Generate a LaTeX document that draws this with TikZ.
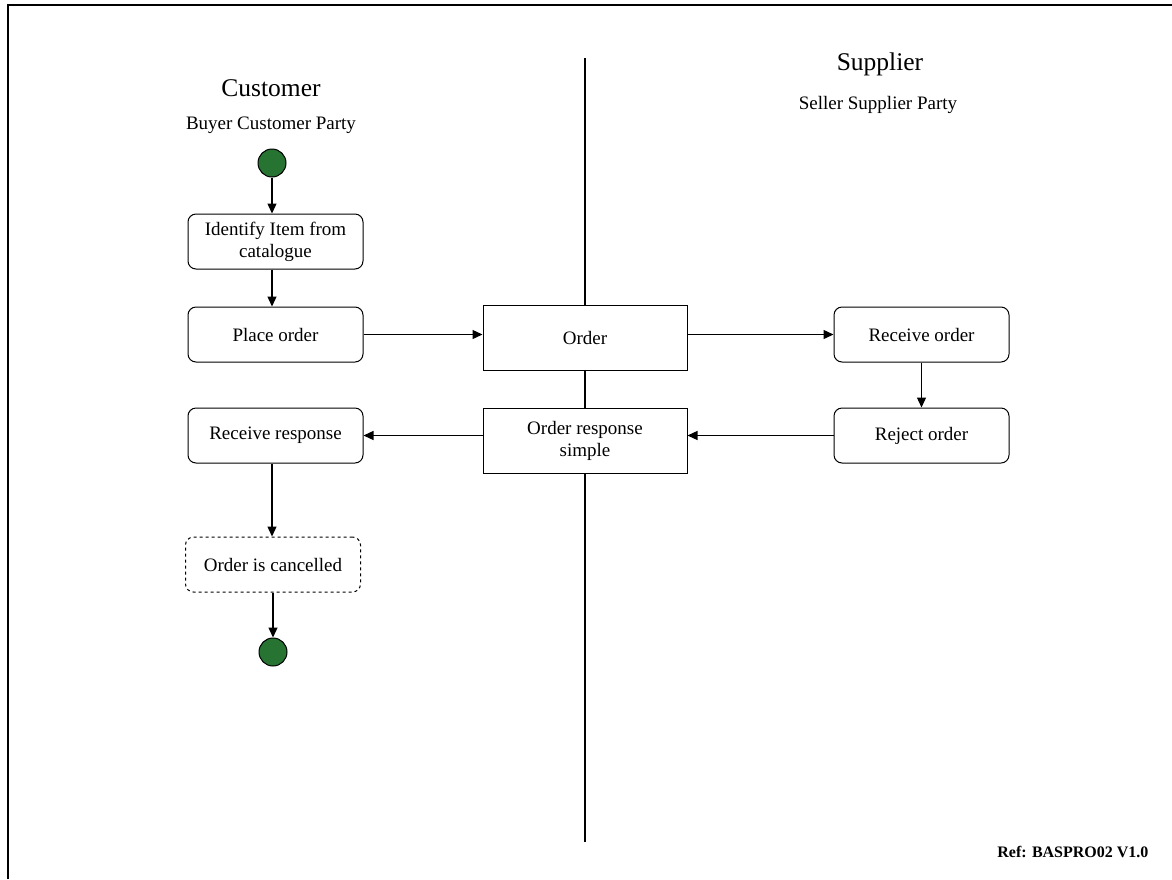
\documentclass[tikz,border=0pt]{standalone}
\usepackage{fontspec}
\setmainfont{Liberation Serif}
\usetikzlibrary{arrows.meta}
\definecolor{startgreen}{RGB}{38,115,50}
\tikzstyle{activity} = [draw,rounded corners=8pt,line width=1pt,minimum width=175pt,minimum height=55pt,align=center,font=\fontsize{19}{22}\selectfont]
\tikzstyle{message} = [draw,fill=white,line width=1pt,minimum width=204pt,minimum height=65pt,align=center,font=\fontsize{19}{22}\selectfont]
\tikzstyle{dot} = [circle,draw,fill=startgreen,minimum size=28pt,inner sep=0pt,line width=1pt]
\tikzstyle{lane} = [font=\fontsize{25.5}{30}\selectfont]
\tikzstyle{party} = [font=\fontsize{19}{22}\selectfont]
\tikzstyle{flow} = [line width=1.3pt,-{Triangle[length=10pt,width=9pt]}]

\begin{document}
\begin{tikzpicture}[x=1pt,y=-1pt]
	\useasboundingbox (0,0) rectangle (1172,879);
	% frame and swimlane divider
	\draw[line width=2.5pt] (8,879) -- (8,5) -- (1172,5);
	\draw[line width=2.5pt] (585,58) -- (585,842);
	\node[lane] (customer) at (271,88) {Customer};
	\node[party] (buyer) at (271,125) {Buyer Customer Party};
	\node[lane] (supplier) at (880,64) {Supplier};
	\node[party] (seller) at (878,105) {Seller Supplier Party};
	\node[dot] (start) at (272,163) {};
	\node[activity] (identify) at (275.5,241.5) {Identify Item from\\catalogue};
	\node[activity] (place) at (275.5,334.5) {Place order};
	\node[message] (order) at (585,337.5) {Order};
	\node[activity] (receive) at (921.5,334.5) {Receive order};
	\node[activity] (reject) at (921.5,435.5) {Reject order};
	\node[message] (response) at (585,440.5) {Order response\\simple};
	\node[activity] (receiveresp) at (275.5,435.5) {Receive response};
	\node[activity,dashed] (cancelled) at (273,564.5) {Order is cancelled};
	\node[dot] (end) at (273,652) {};
	\node[font=\fontsize{16}{19}\selectfont\bfseries,anchor=east] (ref) at (1152,852) {Ref: BASPRO02 V1.0};
	\draw[flow] (start) -- (start|-identify.north);
	\draw[flow] (start|-identify.south) -- (start|-place.north);
	\draw[flow] (place) -- (order.west|-place);
	\draw[flow] (order.east|-receive) -- (receive);
	\draw[flow] (receive) -- (reject);
	\draw[flow] (reject) -- (response.east|-reject);
	\draw[flow] (response.west|-reject) -- (receiveresp);
	\draw[flow] (start|-receiveresp.south) -- (start|-cancelled.north);
	\draw[flow] (cancelled) -- (end);
\end{tikzpicture}
\end{document}
